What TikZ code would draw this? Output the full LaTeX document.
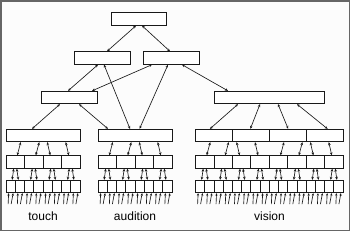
\documentclass[tikz,border=0pt]{standalone}
\usepackage{fontspec}
\setmainfont{Liberation Sans}
\usetikzlibrary{arrows,arrows.meta}
\usetikzlibrary{backgrounds,calc}
\pgfdeclarelayer{edgelayer}
\pgfdeclarelayer{nodelayer}
\pgfsetlayers{background,edgelayer,nodelayer,main}
\tikzstyle{none}=[inner sep=0mm]
\tikzstyle{box}=[draw=black!90,fill=white,line width=0.8pt,shape=rectangle,inner sep=0pt,minimum height=12.5pt]
\tikzstyle{cell}=[box]
\tikzstyle{biedge}=[{Stealth[length=3pt,width=2.6pt]}-{Stealth[length=3pt,width=2.6pt]},line width=0.65pt,draw=black!90]
\tikzstyle{inedge}=[-{Stealth[length=2.5pt,width=2.2pt]},line width=0.65pt,draw=black!90]
\tikzstyle{sense}=[none,text=black,font=\fontsize{12}{14}\selectfont]

\begin{document}
\begin{tikzpicture}[x=1pt,y=-1pt]
	\useasboundingbox (0,0) rectangle (350,231);
	\begin{pgfonlayer}{background}
		\draw [line width=1.5pt, draw=black!60, fill=black!1] (0.75,0.75) rectangle (349.25,230.25);
	\end{pgfonlayer}
	\begin{pgfonlayer}{nodelayer}
		\node [style=box, minimum width=55pt] (top) at (138.5, 19) {};
		\node [style=box, minimum width=56pt] (midL) at (102, 58) {};
		\node [style=box, minimum width=56pt] (midR) at (171, 58) {};
		\node [style=box, minimum width=56pt] (lowL) at (69, 97.5) {};
		\node [style=box, minimum width=110pt] (lowR) at (269, 97.5) {};
		\node [style=box, minimum width=74pt] (touchA1) at (43, 135.5) {};
		\node [style=box, minimum width=74pt] (auditionA1) at (135, 135.5) {};
		\foreach \i in {1,...,4}
			\node [style=cell, minimum width=36.875pt] (visionA\i) at ({195.5+36.875*(\i-0.5)}, 135.5) {};
		\foreach \col/\xo/\n/\w in {touch/6/4/18.5, audition/98/4/18.5, vision/195.5/8/18.4375} {
			\foreach \i in {1,...,\n}
				\node [style=cell, minimum width=\w pt] (\col B\i) at ({\xo+\w*(\i-0.5)}, 162) {};
			\pgfmathtruncatemacro{\m}{2*\n}
			\foreach \j in {1,...,\m}
				\node [style=cell, minimum width={\w*0.5pt}] (\col C\j) at ({\xo+\w*0.5*(\j-0.5)}, 186.5) {};
		}
		\node [style=sense, anchor=base] (touch) at (43, 220) {touch};
		\node [style=sense, anchor=base] (audition) at (135, 220) {audition};
		\node [style=sense, anchor=base] (vision) at (269.5, 220) {vision};
	\end{pgfonlayer}
	\begin{pgfonlayer}{edgelayer}
		\draw [style=biedge] ([xshift=-2.5pt]top.south) to ([xshift=5pt]midL.north);
		\draw [style=biedge] ([xshift=3.5pt]top.south) to ([xshift=-1pt]midR.north);
		\draw [style=biedge] ([xshift=-4pt]midL.south) to ([xshift=-1pt]lowL.north);
		\draw [style=biedge] ([xshift=2pt]midL.south) to ([xshift=-5pt]auditionA1.north);
		\draw [style=biedge] ([xshift=-19pt]midR.south) to ([xshift=23pt]lowL.north);
		\draw [style=biedge] ([xshift=-3pt]midR.south) to ([xshift=4.5pt]auditionA1.north);
		\draw [style=biedge] ([xshift=11pt]midR.south) to ([xshift=-41pt]lowR.north);
		\draw [style=biedge] ([xshift=-9pt]lowL.south) to ([xshift=-11pt]touchA1.north);
		\draw [style=biedge] ([xshift=10pt]lowL.south) to ([xshift=-27pt]auditionA1.north);
		\draw [style=biedge] ([xshift=-31pt]lowR.south) to ([xshift=-4pt]visionA1.north);
		\draw [style=biedge] ([xshift=-9pt]lowR.south) to ([xshift=-0.5pt]visionA2.north);
		\draw [style=biedge] ([xshift=9pt]lowR.south) to ([xshift=0.5pt]visionA3.north);
		\draw [style=biedge] ([xshift=28pt]lowR.south) to ([xshift=3pt]visionA4.north);
		% fan out inside each sense
		\foreach \col/\n in {touch/4, audition/4, vision/8} {
			\foreach \i in {1,...,\n} {
				\pgfmathsetmacro{\b}{mod(\i-1,4)<2 ? 2 : -2}
				\pgfmathsetmacro{\t}{mod(\i-1,4)<2 ? 5.5 : -5}
				\pgfmathtruncatemacro{\ja}{2*\i-1}
				\pgfmathtruncatemacro{\jb}{2*\i}
				\draw [style=biedge] ([xshift=\t pt]\col B\i.north |- \col A1.south) to ([xshift=\b pt]\col B\i.north);
				\draw [style=biedge] ([xshift=-1.5pt]\col B\i.south) to ([xshift=1.5pt]\col C\ja.north);
				\draw [style=biedge] ([xshift=1.5pt]\col B\i.south) to ([xshift=-1.5pt]\col C\jb.north);
			}
		}
		\foreach \col/\m in {touch/8, audition/8, vision/16} {
			\foreach \j in {1,...,\m} {
				\draw [style=inedge] ([xshift=-2.5pt, yshift=-11pt]\col C\j.south) to ([xshift=-2pt]\col C\j.south);
				\draw [style=inedge] ([xshift=0.5pt, yshift=-11pt]\col C\j.south) to ([xshift=2.5pt]\col C\j.south);
			}
		}
	\end{pgfonlayer}
\end{tikzpicture}
\end{document}
